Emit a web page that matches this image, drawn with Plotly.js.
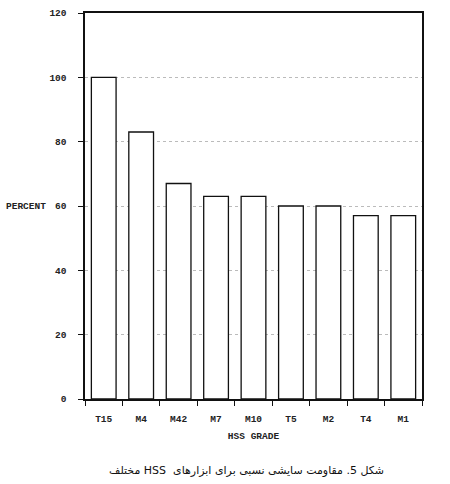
<!DOCTYPE html>
<html><head><meta charset="utf-8">
<script src="https://cdn.plot.ly/plotly-3.0.1.min.js"></script>
<style>html,body{margin:0;padding:0;background:#fff;}#chart{width:450px;height:484px;}</style>
</head><body><div id="chart"></div>
<script>
const grades = ["T15","M4","M42","M7","M10","T5","M2","T4","M1"];
const percent = [100, 83, 67, 63, 63, 60, 60, 57, 57];
const yTicks = [0, 20, 40, 60, 80, 100, 120];
const yLabel = "PERCENT";
const xLabel = "HSS GRADE";
const caption = "شکل 5. مقاومت سایشی نسبی برای ابزارهای  HSS مختلف";

const mono = {family: "Liberation Mono, Courier New, monospace", size: 9.5, color: "#222"};
const monoB = {family: mono.family, size: 9.5, color: "#222", weight: "bold"};

Plotly.newPlot("chart", [{
  type: "bar",
  x: grades,
  y: percent,
  marker: {color: "#fff", line: {color: "#111", width: 1.3}},
  hoverinfo: "none"
}], {
  width: 450, height: 484,
  margin: {l: 85, r: 28, t: 13, b: 85},
  paper_bgcolor: "#fff", plot_bgcolor: "#fff",
  bargap: 0.34,
  showlegend: false,
  font: mono,
  xaxis: {
    type: "category",
    range: [-0.5, 8.5],
    showline: true, linecolor: "#111", linewidth: 1.6, mirror: true,
    ticks: "outside", tickson: "boundaries", ticklen: 5, tickcolor: "#111", tickwidth: 1,
    ticklabelstandoff: 10,
    tickfont: monoB,
    showgrid: false, zeroline: false,
    title: {text: xLabel, font: monoB, standoff: 8}
  },
  yaxis: {
    range: [0, 120],
    tickvals: yTicks,
    showline: true, linecolor: "#111", linewidth: 1.6, mirror: true,
    ticks: "outside", ticklen: 5, tickcolor: "#111", tickwidth: 1,
    ticklabelstandoff: 10,
    tickfont: monoB,
    showgrid: true, gridcolor: "#bbb", griddash: "dot", gridwidth: 1,
    zeroline: false
  },
  annotations: [
    {text: yLabel, xref: "paper", yref: "y", x: -0.24, y: 60, xanchor: "left", yanchor: "middle", showarrow: false,
     font: monoB},
    {text: "\u202B" + caption + "\u202C", xref: "paper", yref: "paper", x: 0.48, y: -0.185, xanchor: "center", yanchor: "middle", showarrow: false,
     font: {family: "DejaVu Sans, Noto Sans, sans-serif", size: 11, color: "#111"}}
  ]
}, {displayModeBar: false, staticPlot: true});
</script>
</body></html>
